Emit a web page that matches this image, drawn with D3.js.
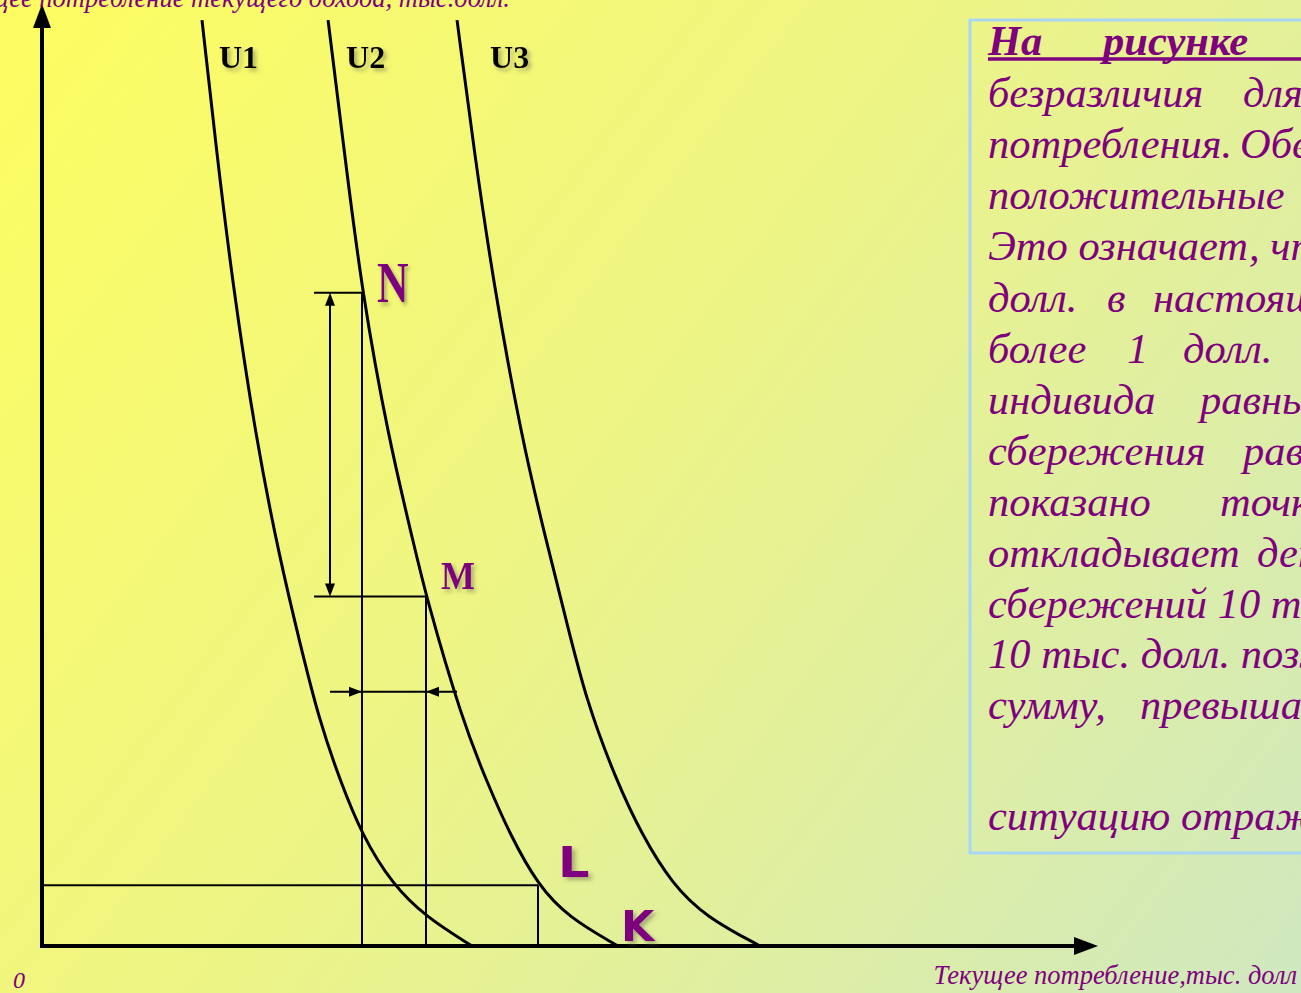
<!DOCTYPE html>
<html>
<head>
<meta charset="utf-8">
<script src="https://cdn.jsdelivr.net/npm/d3@7"></script>
<style>
  html, body { margin: 0; padding: 0; overflow: hidden; }
  svg { display: block; }
</style>
</head>
<body>
<svg id="chart" width="1301" height="993"></svg>
<script>
// Indifference curves for intertemporal consumption (тыс. долл.)
const u1X = [5.0, 5.45, 5.94, 6.69, 7.44, 8.06, 8.66, 9.31, 10.0, 10.94, 12.0, 13.44];
const u1Y = [30.47, 26.2, 21.92, 16.65, 12.7, 9.97, 7.44, 5.46, 3.65, 2.04, 0.95, 0];
const u2X = [8.94, 9.44, 10.0, 10.84, 11.59, 12.0, 13.13, 13.88, 14.63, 15.5, 16.44, 18.0];
const u2Y = [30.47, 26.2, 21.5, 16.65, 13.36, 11.5, 7.44, 5.46, 3.65, 2.0, 0.95, 0];
const u3X = [12.97, 13.5, 14.09, 15.0, 15.75, 16.38, 17.0, 17.94, 18.75, 19.69, 20.75, 22.44];
const u3Y = [30.47, 26.2, 21.92, 16.65, 13.36, 10.73, 8.1, 5.46, 3.65, 2.04, 0.95, 0];
const curveNames = ["U1", "U2", "U3"];

// Marked bundles on the curves
const pointNames = ["N", "M", "L", "K"];
const pointX = [10, 12, 15.5, 18];
const pointY = [21.5, 11.5, 2, 0];

const axisMax = { x: 33, y: 31 };
const xTitle = "Текущее потребление,тыс. долл";
const yTitle = "Будущее потребление текущего дохода, тыс.долл.";
const originLabel = "0";

// Explanatory text, one entry per line: [word, x-position] pairs
const noteLines = [
  [["На", 988], ["рисунке", 1103]],
  [["безразличия", 988], ["для", 1243]],
  [["потребления.", 988], ["Обе", 1240]],
  [["положительные", 988], ["временные", 1310]],
  [["Это означает, что", 988]],
  [["долл.", 988], ["в", 1107], ["настоящем", 1153]],
  [["более", 988], ["1", 1127], ["долл.", 1183]],
  [["индивида", 988], ["равны", 1200]],
  [["сбережения", 988], ["равен", 1243]],
  [["показано", 988], ["точкой", 1220]],
  [["откладывает", 988], ["деньги", 1257]],
  [["сбережений 10 тыс.", 988]],
  [["10 тыс. долл. позже", 988]],
  [["сумму,", 988], ["превышающую", 1140]],
  [["ситуацию отражает", 988]]
];
const noteBaselines = [55, 107, 158, 209, 260, 312, 363, 414, 465, 516, 567, 618, 668, 719, 830];

const W = 1301, H = 993;
const svg = d3.select("#chart");
const defs = svg.append("defs");

const bg = defs.append("linearGradient").attr("id", "bg")
  .attr("gradientUnits", "userSpaceOnUse")
  .attr("x1", 0).attr("y1", 0).attr("x2", W).attr("y2", H);
bg.append("stop").attr("offset", "0").attr("stop-color", "#fdfd60");
bg.append("stop").attr("offset", "0.45").attr("stop-color", "#eef584");
bg.append("stop").attr("offset", "1").attr("stop-color", "#cfe8c0");

const shadow = defs.append("filter").attr("id", "shadow")
  .attr("x", "-30%").attr("y", "-30%").attr("width", "170%").attr("height", "170%");
shadow.append("feDropShadow").attr("dx", 3).attr("dy", 3).attr("stdDeviation", 2.2)
  .attr("flood-color", "#6f6f50").attr("flood-opacity", 0.55);

svg.append("rect").attr("width", W).attr("height", H).attr("fill", "url(#bg)");

const x = d3.scaleLinear().domain([0, axisMax.x]).range([42, 1098]);
const y = d3.scaleLinear().domain([0, axisMax.y]).range([946, 4]);

const purple = "#7f007f";

// Text panel
svg.append("rect").attr("x", 970).attr("y", 20).attr("width", 420).attr("height", 833)
  .attr("fill", "none").attr("stroke", "#a9d6f5").attr("stroke-width", 3);

const note = svg.append("g").attr("font-family", "'Liberation Serif', 'Times New Roman', serif")
  .attr("font-style", "italic").attr("font-size", 42.5).attr("fill", purple);
noteLines.forEach((words, i) => {
  words.forEach(([w, wx]) => {
    note.append("text").attr("x", wx).attr("y", noteBaselines[i])
      .attr("font-weight", i === 0 ? "bold" : "normal").text(w);
  });
});
note.append("line").attr("x1", 988).attr("x2", W + 10)
  .attr("y1", 59).attr("y2", 59).attr("stroke", purple).attr("stroke-width", 3.5);

// Guide lines from the marked points
const P = pointNames.map((n, i) => ({ name: n, x: pointX[i], y: pointY[i] }));
const [N, M, L, K] = P;
const guideStart = 8.5;
const guides = [
  [guideStart, N.y, N.x, N.y], [N.x, N.y, N.x, 0],
  [guideStart, M.y, M.x, M.y], [M.x, M.y, M.x, 0],
  [0, L.y, L.x, L.y], [L.x, L.y, L.x, 0]
];
const g = svg.append("g").attr("stroke", "#000").attr("stroke-width", 2).attr("fill", "none");
guides.forEach(d => {
  g.append("line").attr("x1", x(d[0])).attr("y1", y(d[1]))
    .attr("x2", x(d[2])).attr("y2", y(d[3]));
});

function arrowHead(tx, ty, dir, len, half) {
  // dir: unit vector pointing towards the tip
  const bx = tx - dir[0] * len, by = ty - dir[1] * len;
  const px = -dir[1] * half, py = dir[0] * half;
  return `M${tx},${ty}L${bx + px},${by + py}L${bx - px},${by - py}Z`;
}

// Vertical double arrow: change in future consumption N -> M
const arrowX = 9.0;
g.append("line").attr("x1", x(arrowX)).attr("x2", x(arrowX))
  .attr("y1", y(N.y) + 10).attr("y2", y(M.y) - 10);
svg.append("path").attr("d", arrowHead(x(arrowX), y(N.y), [0, -1], 13, 5));
svg.append("path").attr("d", arrowHead(x(arrowX), y(M.y), [0, 1], 13, 5));

// Horizontal arrows: change in current consumption N -> M
const arrowY = 8.37;
g.append("line").attr("x1", x(arrowX)).attr("x2", x(12.97))
  .attr("y1", y(arrowY)).attr("y2", y(arrowY));
svg.append("path").attr("d", arrowHead(x(N.x), y(arrowY), [1, 0], 13, 5));
svg.append("path").attr("d", arrowHead(x(M.x), y(arrowY), [-1, 0], 13, 5));

// Indifference curves (smoothed B-spline through the read-off points)
const line = d3.line().x(d => x(d[0])).y(d => y(d[1])).curve(d3.curveBasis);
[[u1X, u1Y], [u2X, u2Y], [u3X, u3Y]].forEach(([xs, ys]) => {
  svg.append("path").datum(xs.map((v, i) => [v, ys[i]]))
    .attr("d", line).attr("fill", "none").attr("stroke", "#000").attr("stroke-width", 3);
});

// Axes
const xAxis = d3.axisBottom(x).tickValues([]).tickSizeOuter(0);
const yAxis = d3.axisLeft(y).tickValues([]).tickSizeOuter(0);
const xg = svg.append("g").attr("transform", `translate(0,${y(0)})`).call(xAxis);
const yg = svg.append("g").attr("transform", `translate(${x(0)},0)`).call(yAxis);
[xg, yg].forEach(a => a.select(".domain").attr("stroke", "#000").attr("stroke-width", 4));
xg.select(".domain").attr("d", `M${x(0) - 2},0H${x(axisMax.x) - 20}`);
yg.select(".domain").attr("d", `M0,${y(0) + 2}V${y(axisMax.y) + 20}`);
svg.append("path").attr("d", arrowHead(x(axisMax.x), y(0), [1, 0], 24, 9));
svg.append("path").attr("d", arrowHead(x(0), y(axisMax.y), [0, -1], 24, 9));

// Curve names
const curveTops = [u1X[0], u2X[0], u3X[0]];
svg.append("g").selectAll("text").data(curveNames).join("text")
  .attr("x", (d, i) => x(curveTops[i]) + [17, 18, 33][i])
  .attr("y", 68)
  .attr("font-family", "'Liberation Serif', serif").attr("font-weight", "bold")
  .attr("font-size", 32).attr("fill", "#000").attr("filter", "url(#shadow)")
  .text(d => d);

// Point labels
const labelStyle = {
  N: { dx: 15, dy: 9, font: "'Liberation Serif', serif", size: 56, sx: 0.78 },
  M: { dx: 15, dy: -8, font: "'Liberation Serif', serif", size: 40, sx: 0.9 },
  L: { dx: 20, dy: -8, font: "'DejaVu Sans', sans-serif", size: 43, sx: 1.15 },
  K: { dx: 3, dy: -5, font: "'DejaVu Sans', sans-serif", size: 43, sx: 1.0 }
};
svg.append("g").selectAll("text").data(P).join("text")
  .attr("transform", d => {
    const s = labelStyle[d.name];
    return `translate(${x(d.x) + s.dx},${y(d.y) + s.dy}) scale(${s.sx},1)`;
  })
  .attr("font-family", d => labelStyle[d.name].font)
  .attr("font-size", d => labelStyle[d.name].size)
  .attr("font-weight", "bold").attr("fill", purple).attr("filter", "url(#shadow)")
  .text(d => d.name);

// Axis titles
const titleFont = "'Liberation Serif', 'Times New Roman', serif";
svg.append("text").attr("x", 510).attr("y", 7).attr("text-anchor", "end")
  .attr("font-family", titleFont).attr("font-style", "italic").attr("font-size", 26.5)
  .attr("fill", purple).text(yTitle);
svg.append("text").attr("x", 1297).attr("y", 984).attr("text-anchor", "end")
  .attr("font-family", titleFont).attr("font-style", "italic").attr("font-size", 26.5)
  .attr("fill", purple).text(xTitle);
svg.append("text").attr("x", 13).attr("y", 988)
  .attr("font-family", titleFont).attr("font-style", "italic").attr("font-size", 24)
  .attr("fill", purple).text(originLabel);
</script>
</body>
</html>
